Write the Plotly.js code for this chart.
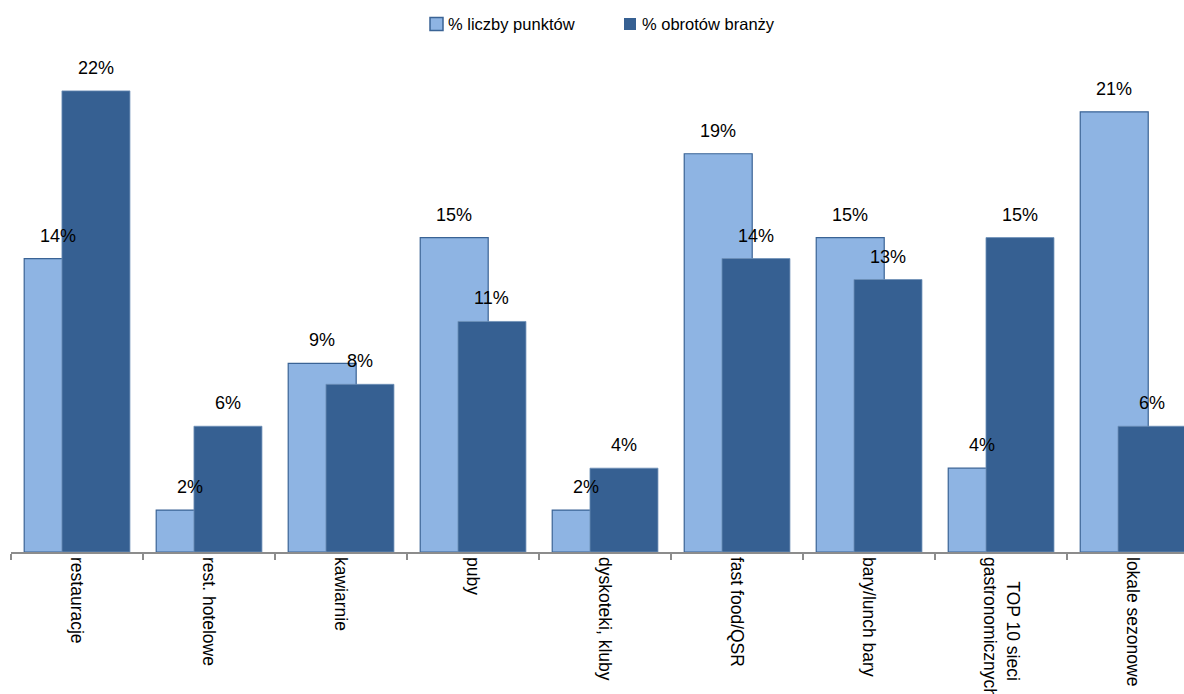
<!DOCTYPE html>
<html>
<head>
<meta charset="utf-8">
<script src="https://cdn.plot.ly/plotly-3.0.1.min.js"></script>
<style>html,body{margin:0;padding:0;overflow:hidden;background:#fff}</style>
</head>
<body>
<div id="chart" style="width:1184px;height:694px"></div>
<script>
const categories = ["restauracje", "rest. hotelowe", "kawiarnie", "puby", "dyskoteki, kluby", "fast food/QSR", "bary/lunch bary", "\u00a0\u00a0\u00a0\u00a0\u00a0TOP 10 sieci<br>gastronomicznych", "lokale sezonowe"];
const seriesNames = ["% liczby punktów", "% obrotów branży"];
const pctPoints = [14, 2, 9, 15, 2, 19, 15, 4, 21];
const pctTurnover = [22, 6, 8, 11, 4, 14, 13, 15, 6];

const font = "'Liberation Sans', Arial, sans-serif";
const lightColor = '#8EB4E3', lightLine = '#3A6395', darkColor = '#366092';

const barWidth = 0.515, lightOffset = -0.40, darkOffset = -0.114;
// plot geometry in pixels (for legend placement and label shifts)
const plotLeft = 11, plotW = 1173, plotTop = 28, plotH = 524, catPx = 132;

const traces = [
  {
    type: 'bar', name: seriesNames[0], x: categories, y: pctPoints,
    offset: lightOffset, width: barWidth,
    marker: {color: lightColor, line: {color: lightLine, width: 1.2}},
    hoverinfo: 'skip', showlegend: false
  },
  {
    type: 'bar', name: seriesNames[1], x: categories, y: pctTurnover,
    offset: darkOffset, width: barWidth,
    marker: {color: darkColor, line: {color: '#6f90b8', width: 0.8}},
    hoverinfo: 'skip', showlegend: false
  }
];

const annotations = [];
const lightShift = (lightOffset + barWidth / 2) * catPx;
const darkShift = (darkOffset + barWidth / 2) * catPx;
const labelFont = {family: font, size: 18, color: '#000'};
categories.forEach((c, i) => {
  annotations.push({x: c, y: pctPoints[i], xref: 'x', yref: 'y', text: pctPoints[i] + '%',
    showarrow: false, xshift: lightShift, yshift: 11, yanchor: 'bottom', xanchor: 'center', font: labelFont});
  annotations.push({x: c, y: pctTurnover[i], xref: 'x', yref: 'y', text: pctTurnover[i] + '%',
    showarrow: false, xshift: darkShift, yshift: 11, yanchor: 'bottom', xanchor: 'center', font: labelFont});
});

const px2x = p => (p - plotLeft) / plotW;
const py2y = p => (plotTop + plotH - p) / plotH;

// legend (drawn manually)
const shapes = [
  {type: 'rect', xref: 'paper', yref: 'paper', x0: px2x(430), x1: px2x(443), y0: py2y(30.5), y1: py2y(17.5),
   fillcolor: lightColor, line: {color: lightLine, width: 1.5}},
  {type: 'rect', xref: 'paper', yref: 'paper', x0: px2x(624), x1: px2x(636), y0: py2y(30), y1: py2y(18),
   fillcolor: darkColor, line: {width: 0}}
];
const legendFont = {family: font, size: 16.5, color: '#000'};
annotations.push({xref: 'paper', yref: 'paper', x: px2x(446), y: py2y(24), xanchor: 'left', yanchor: 'middle',
  text: seriesNames[0], showarrow: false, font: legendFont});
annotations.push({xref: 'paper', yref: 'paper', x: px2x(640), y: py2y(24), xanchor: 'left', yanchor: 'middle',
  text: seriesNames[1], showarrow: false, font: legendFont});

const layout = {
  width: 1184, height: 694,
  margin: {l: plotLeft, r: 0, t: plotTop, b: 142},
  paper_bgcolor: '#fff', plot_bgcolor: '#fff',
  barmode: 'overlay',
  font: {family: font, size: 16, color: '#000'},
  showlegend: false,
  annotations: annotations,
  shapes: shapes,
  xaxis: {
    type: 'category', range: [-0.5, 8.386],
    showline: true, linecolor: '#8c8c8c', linewidth: 1.5,
    ticks: 'outside', tickson: 'boundaries', ticklen: 6, tickcolor: '#8c8c8c', tickwidth: 1.5,
    tickangle: 90, tickfont: {family: font, size: 17.5, color: '#000'},
    showgrid: false, zeroline: false, fixedrange: true
  },
  yaxis: {
    range: [0, 25], visible: false, showgrid: false, zeroline: false, fixedrange: true
  }
};

Plotly.newPlot('chart', traces, layout, {displayModeBar: false, staticPlot: true});
</script>
</body>
</html>
